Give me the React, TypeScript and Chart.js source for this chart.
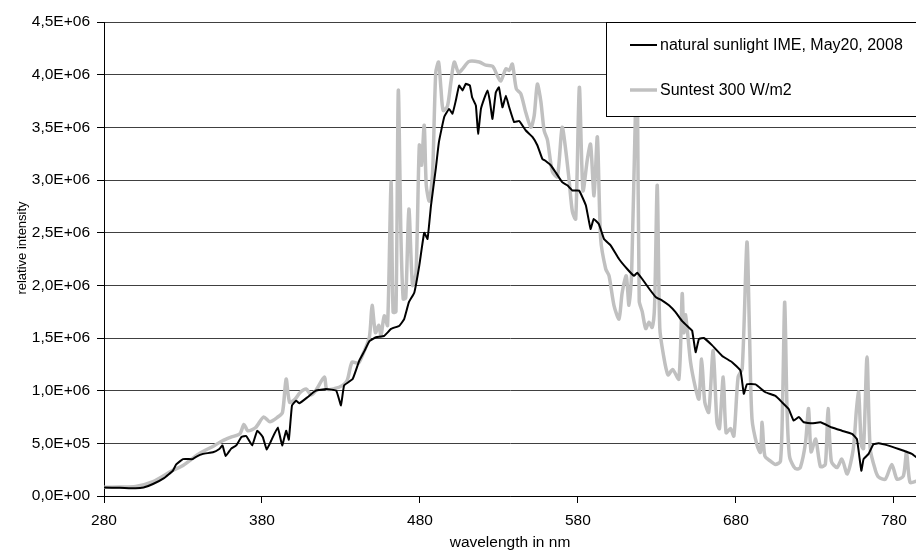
import React, { useEffect, useRef } from 'react';
import { Chart, registerables } from 'chart.js';

Chart.register(...registerables);

// ---- data (intensity in units of 1E+06) ----
const sunlightWavelengths = [
  280, 290, 300, 305, 311, 318, 323.6, 325.7, 330, 336, 338, 342.6, 349, 353, 355, 357, 360.5, 363.7, 367, 370,
  373.8, 377, 380.5, 383, 385.8, 390, 392.8, 395.3, 397, 399, 401.6, 403.7, 409, 414, 420.6, 427, 430, 432, 437.4, 441.6,
  445, 448, 452.2, 457.4, 461.7, 467, 470, 473, 476.4, 479.6, 482.7, 484.8, 487, 490, 492, 495.4, 498.5, 500.6, 502.7, 504.8,
  507, 509, 511.6, 513, 515.4, 516.8, 518.6, 520.6, 522.7, 524.2, 525.9, 528, 530, 532.2, 534.4, 536.5, 539.6, 542.8, 547, 551.2,
  554.3, 557.5, 559.6, 562.8, 566, 570, 573.3, 576.5, 580.7, 585, 588, 590, 593.3, 596.5, 600.7, 606, 611.2, 615.5, 617.5, 620.7,
  625, 629.2, 633.4, 637.6, 641.8, 646, 650.2, 652.3, 654.5, 656.6, 659.7, 665, 671.3, 677.6, 682.9, 685, 687, 692.4, 698.7, 705,
  709.2, 713.4, 716.6, 719.8, 723, 728.2, 733.5, 740.8, 747.1, 753.5, 756.6, 759.4, 760.8, 764, 767, 770.3, 776.6, 783, 791.4, 794,
];
const sunlightIntensity = [
  0.08, 0.078, 0.073, 0.08, 0.114, 0.17, 0.24, 0.3, 0.35, 0.35, 0.37, 0.4, 0.415, 0.446, 0.48, 0.38, 0.45, 0.48, 0.56, 0.57,
  0.48, 0.62, 0.56, 0.44, 0.525, 0.65, 0.48, 0.62, 0.535, 0.86, 0.905, 0.88, 0.94, 1.0, 1.015, 1.0, 0.86, 1.05, 1.11, 1.285,
  1.38, 1.47, 1.507, 1.52, 1.586, 1.617, 1.68, 1.84, 1.93, 2.19, 2.5, 2.44, 2.76, 3.105, 3.36, 3.6, 3.675, 3.63, 3.754, 3.897,
  3.85, 3.913, 3.897, 3.786, 3.707, 3.44, 3.675, 3.77, 3.85, 3.754, 3.58, 3.83, 3.88, 3.69, 3.8, 3.69, 3.55, 3.56, 3.47, 3.41,
  3.33, 3.2, 3.18, 3.14, 3.07, 2.98, 2.95, 2.9, 2.9, 2.76, 2.535, 2.63, 2.58, 2.44, 2.38, 2.25, 2.155, 2.09, 2.12, 2.06,
  1.97, 1.89, 1.855, 1.81, 1.745, 1.66, 1.6, 1.57, 1.365, 1.49, 1.5, 1.43, 1.33, 1.27, 1.19, 0.97, 1.06, 1.06, 0.985, 0.95,
  0.89, 0.826, 0.715, 0.75, 0.7, 0.69, 0.7, 0.65, 0.62, 0.59, 0.54, 0.24, 0.35, 0.4, 0.49, 0.5, 0.478, 0.446, 0.4, 0.37,
];
const suntestWavelengths = [
  280, 290, 300, 311, 323, 330, 340, 350, 355, 360, 366, 368.6, 371, 376, 381, 385, 390, 393, 395.3, 397.5,
  401, 404, 408, 411, 414, 419.5, 421, 426, 431, 434, 437, 441, 444, 448, 449.7, 451.8, 454, 455.3, 457.4, 459.5,
  461.7, 463, 464.8, 466.3, 468, 469.4, 471, 473, 475.3, 477.5, 479.6, 481, 482.7, 484, 485.9, 488, 490, 491.8, 493.3, 494.7,
  497.4, 499.6, 501.7, 504.4, 507, 511, 517.5, 521.7, 526, 529, 531.2, 534.4, 536.5, 538.5, 541, 543.8, 547, 550.2, 552.3, 554.3,
  556.5, 558.6, 560.7, 563.8, 567, 570, 572.3, 574.4, 576.5, 578.6, 580.9, 583.2, 586, 588, 590.2, 592.3, 594.4, 597.6, 599.7, 602.8,
  606, 608, 610.6, 612.3, 614, 616.5, 617.6, 618.8, 620.7, 622.9, 625, 627, 628.5, 630.2, 631.8, 634, 637, 640, 643.9, 646,
  647, 648.1, 651.3, 654.5, 656.6, 658.3, 660.3, 662.8, 665.6, 668, 669.6, 672, 673.8, 676.6, 678.7, 681.4, 684, 687, 688.6, 690.2,
  693.4, 695.5, 696.6, 698.3, 701.9, 705, 708.2, 709.6, 710.9, 712.4, 713.9, 716.6, 718.7, 720.8, 724, 726, 727.6, 730.5, 733.5, 736.6,
  738.3, 740.4, 744, 747.1, 750.5, 754.3, 756.3, 757.7, 759.4, 760.8, 763, 765, 768.2, 770.3, 774.6, 778.7, 782, 786, 788, 790.2, 794,
];
const suntestIntensity = [
  0.083, 0.085, 0.09, 0.136, 0.24, 0.29, 0.4, 0.48, 0.525, 0.557, 0.59, 0.68, 0.62, 0.65, 0.75, 0.705, 0.75, 0.795, 1.11, 0.89,
  0.92, 0.98, 1.015, 0.96, 1.0, 1.13, 1.015, 1.02, 1.05, 1.1, 1.27, 1.26, 1.35, 1.51, 1.81, 1.55, 1.62, 1.52, 1.71, 1.62,
  2.98, 1.745, 1.75, 3.85, 2.44, 1.87, 1.88, 2.725, 2.0, 2.12, 3.33, 3.14, 3.52, 2.95, 2.8, 3.07, 4.02, 4.12, 3.865, 3.66,
  3.7, 3.93, 4.12, 4.02, 4.055, 4.125, 4.12, 4.09, 4.08, 3.99, 3.94, 4.055, 4.04, 4.1, 3.865, 3.82, 3.64, 3.5, 3.61, 3.91,
  3.75, 3.47, 3.38, 3.08, 3.03, 3.5, 3.28, 3.0, 2.7, 2.63, 3.88, 2.9, 3.2, 3.34, 2.85, 3.41, 2.44, 2.155, 2.09, 1.81,
  1.68, 1.93, 2.09, 1.81, 2.12, 3.71, 3.98, 1.85, 1.75, 1.59, 1.65, 1.6, 1.8, 2.95, 1.6, 1.35, 1.15, 1.2, 1.11, 1.92,
  1.55, 1.72, 1.27, 1.02, 0.92, 1.3, 0.89, 0.795, 1.38, 0.7, 0.64, 1.13, 0.6, 0.64, 0.57, 1.13, 1.21, 2.41, 1.555, 0.73,
  0.48, 0.415, 0.7, 0.38, 0.33, 0.3, 0.33, 0.92, 1.84, 0.8, 0.38, 0.28, 0.256, 0.27, 0.5, 0.83, 0.42, 0.54, 0.28, 0.3,
  0.83, 0.33, 0.27, 0.35, 0.21, 0.446, 0.82, 0.985, 0.48, 0.45, 1.32, 0.45, 0.25, 0.18, 0.16, 0.3, 0.16, 0.19, 0.415, 0.13, 0.14,
];
const xTickValues = [280, 380, 480, 580, 680, 780];
const seriesNames = ['natural sunlight IME, May20, 2008', 'Suntest 300 W/m2'];
const xAxisTitle = 'wavelength in nm';
const yAxisTitle = 'relative intensity';

const FONT = '"Liberation Sans", Arial, sans-serif';
const BLACK = '#000000';
const GRAY = '#c0c0c0';

function sciLabel(v: number): string {
  if (v === 0) return '0,0E+00';
  const e = Math.floor(Math.log10(v) + 1e-9);
  const m = v / Math.pow(10, e);
  return m.toFixed(1).replace('.', ',') + 'E+' + String(e).padStart(2, '0');
}

const overlayPlugin = {
  id: 'overlay',
  afterDraw(chart: any) {
    const ctx = chart.ctx as CanvasRenderingContext2D;
    const area = chart.chartArea;
    // y axis title
    ctx.save();
    ctx.font = `13px ${FONT}`;
    ctx.fillStyle = BLACK;
    ctx.textAlign = 'center';
    ctx.textBaseline = 'middle';
    ctx.translate(22, 248);
    ctx.rotate(-Math.PI / 2);
    ctx.fillText(yAxisTitle, 0, 0);
    ctx.restore();

    // legend box
    ctx.save();
    const bx = 606;
    const by = area.top;
    const bh = 94;
    ctx.fillStyle = '#ffffff';
    ctx.fillRect(bx, by, chart.width - bx + 10, bh);
    ctx.strokeStyle = BLACK;
    ctx.lineWidth = 1;
    ctx.strokeRect(bx + 0.5, by + 0.5, chart.width - bx + 10, bh);
    const items = [
      { name: seriesNames[0], color: BLACK, width: 2, y: by + 23 },
      { name: seriesNames[1], color: GRAY, width: 3.5, y: by + 68 },
    ];
    ctx.font = `16px ${FONT}`;
    ctx.textAlign = 'left';
    ctx.textBaseline = 'middle';
    for (const it of items) {
      ctx.strokeStyle = it.color;
      ctx.lineWidth = it.width;
      ctx.beginPath();
      ctx.moveTo(630, it.y);
      ctx.lineTo(657, it.y);
      ctx.stroke();
      ctx.fillStyle = BLACK;
      ctx.fillText(it.name, 660, it.y + 1);
    }
    ctx.restore();
  },
};

export default function App() {
  const canvasRef = useRef<HTMLCanvasElement | null>(null);

  useEffect(() => {
    document.body.style.margin = '0';
    const canvas = canvasRef.current;
    if (!canvas) return;
    const sunlight = sunlightWavelengths.map((x, i) => ({ x, y: sunlightIntensity[i] * 1e6 }));
    const suntest = suntestWavelengths.map((x, i) => ({ x, y: suntestIntensity[i] * 1e6 }));

    const chart = new Chart(canvas, {
      type: 'line',
      data: {
        datasets: [
          {
            label: seriesNames[0],
            data: sunlight,
            borderColor: BLACK,
            borderWidth: 2,
            pointRadius: 0,
            tension: 0.1,
            borderJoinStyle: 'round',
            borderCapStyle: 'round',
            fill: false,
          },
          {
            label: seriesNames[1],
            data: suntest,
            borderColor: GRAY,
            borderWidth: 3.5,
            pointRadius: 0,
            tension: 0.25,
            borderJoinStyle: 'round',
            borderCapStyle: 'round',
            fill: false,
          },
        ],
      },
      options: {
        animation: false,
        responsive: false,
        devicePixelRatio: 1,
        layout: { padding: { top: 22, right: 0, left: 0, bottom: 0 } },
        plugins: {
          legend: { display: false },
          tooltip: { enabled: false },
        },
        scales: {
          x: {
            type: 'linear',
            min: 280,
            max: 794,
            afterBuildTicks: (scale: any) => {
              scale.ticks = xTickValues.map((v) => ({ value: v }));
            },
            afterFit: (scale: any) => {
              scale.height = 60;
            },
            grid: {
              display: true,
              drawOnChartArea: false,
              drawTicks: true,
              tickLength: 7,
              tickColor: BLACK,
            },
            border: { display: true, color: BLACK, width: 1 },
            ticks: {
              autoSkip: false,
              maxRotation: 0,
              padding: 8,
              color: BLACK,
              font: { family: FONT, size: 15.5 },
              callback: (v: any) => String(v),
            },
            title: {
              display: true,
              text: xAxisTitle,
              color: BLACK,
              font: { family: FONT, size: 15.5 },
              padding: { top: 0, bottom: 4 },
            },
          },
          y: {
            type: 'linear',
            min: 0,
            max: 4.5e6,
            afterFit: (scale: any) => {
              scale.width = 104;
            },
            grid: {
              display: true,
              drawOnChartArea: true,
              drawTicks: true,
              tickLength: 7,
              color: '#404040',
              tickColor: BLACK,
              lineWidth: 1,
            },
            border: { display: true, color: BLACK, width: 1 },
            ticks: {
              stepSize: 5e5,
              padding: 7,
              color: BLACK,
              font: { family: FONT, size: 15.5 },
              callback: (v: any) => sciLabel(Number(v)),
            },
          },
        },
      },
      plugins: [overlayPlugin],
    } as any);

    return () => {
      chart.destroy();
    };
  }, []);

  return (
    <div style={{ width: 916, height: 556 }}>
      <canvas ref={canvasRef} width={916} height={556} style={{ display: 'block' }} />
    </div>
  );
}
